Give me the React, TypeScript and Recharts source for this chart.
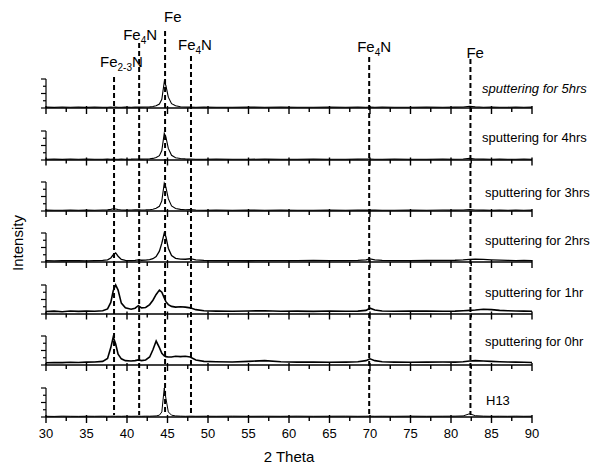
import React from 'react';
import { LineChart, Line, XAxis, YAxis, ReferenceLine, ReferenceDot } from 'recharts';

const W = 610;
const H = 468;
const ML = 46;
const MR = 78;
const FONT = '"Liberation Sans", Arial, Helvetica, sans-serif';

// 2 theta sample positions shared by every pattern
const TWO_THETA = [
  30, 31, 32, 33, 34, 35, 36, 37, 37.6, 38, 38.3, 38.6, 38.9, 39.3, 39.8, 40.5, 41, 41.4, 41.8, 42.3,
  42.8, 43.2, 43.6, 44, 44.3, 44.6, 44.8, 45.1, 45.5, 46, 46.6, 47.2, 47.8, 48.5, 49.5, 51, 53, 55, 57,
  59, 61, 63, 65, 67, 68.5, 69.5, 70, 70.6, 71.5, 73, 75, 77, 79, 80.5, 81.5, 82.3, 83, 84, 85, 86, 87,
  88, 89, 90,
];

const X_TICKS = [30, 32.5, 35, 37.5, 40, 42.5, 45, 47.5, 50, 52.5, 55, 57.5, 60, 62.5, 65, 67.5, 70, 72.5, 75, 77.5, 80, 82.5, 85, 87.5, 90];
const Y_TICKS = [0, 1, 2, 3, 4];

const HRS_5 = [
  0.12, 0.08, 0.14, 0.1, 0.12, 0.09, 0.13, 0.1, 0.11, 0.12, 0.1, 0.12, 0.11, 0.1, 0.12, 0.11, 0.13, 0.12,
  0.12, 0.13, 0.15, 0.2, 0.3, 0.55, 1.2, 3.6, 3.1, 1.5, 0.6, 0.3, 0.18, 0.14, 0.12, 0.1, 0.12, 0.1, 0.11,
  0.13, 0.1, 0.12, 0.1, 0.11, 0.13, 0.1, 0.12, 0.11, 0.12, 0.1, 0.12, 0.1, 0.11, 0.13, 0.1, 0.12, 0.14,
  0.25, 0.15, 0.1, 0.12, 0.1, 0.11, 0.13, 0.1, 0.12,
];
const HRS_4 = [
  0.1, 0.12, 0.09, 0.13, 0.1, 0.12, 0.1, 0.11, 0.12, 0.1, 0.13, 0.11, 0.1, 0.12, 0.11, 0.12, 0.14, 0.13,
  0.12, 0.14, 0.17, 0.22, 0.35, 0.6, 1.3, 3.7, 3.2, 1.6, 0.65, 0.32, 0.2, 0.15, 0.13, 0.11, 0.1, 0.12,
  0.11, 0.1, 0.13, 0.11, 0.1, 0.12, 0.11, 0.1, 0.12, 0.13, 0.14, 0.11, 0.1, 0.12, 0.11, 0.1, 0.12, 0.11,
  0.13, 0.22, 0.14, 0.12, 0.1, 0.12, 0.11, 0.1, 0.12, 0.11,
];
const HRS_3 = [
  0.12, 0.1, 0.11, 0.13, 0.1, 0.12, 0.11, 0.13, 0.15, 0.22, 0.3, 0.28, 0.2, 0.14, 0.12, 0.13, 0.15, 0.16,
  0.14, 0.15, 0.18, 0.24, 0.38, 0.65, 1.4, 3.85, 3.3, 1.7, 0.7, 0.35, 0.22, 0.18, 0.2, 0.13, 0.11, 0.12,
  0.1, 0.13, 0.11, 0.12, 0.1, 0.11, 0.12, 0.1, 0.13, 0.12, 0.14, 0.12, 0.11, 0.1, 0.12, 0.11, 0.13, 0.12,
  0.13, 0.2, 0.14, 0.12, 0.11, 0.13, 0.1, 0.12, 0.11, 0.12,
];
const HRS_2 = [
  0.18, 0.15, 0.2, 0.17, 0.19, 0.16, 0.2, 0.22, 0.3, 0.55, 1.0, 1.25, 0.8, 0.35, 0.22, 0.2, 0.22, 0.3,
  0.24, 0.25, 0.32, 0.45, 0.75, 1.5, 2.6, 4.0, 3.5, 1.9, 0.9, 0.5, 0.4, 0.38, 0.45, 0.28, 0.22, 0.18, 0.2,
  0.17, 0.19, 0.2, 0.18, 0.21, 0.19, 0.2, 0.22, 0.28, 0.42, 0.3, 0.22, 0.2, 0.18, 0.21, 0.22, 0.24, 0.28,
  0.35, 0.4, 0.35, 0.3, 0.25, 0.22, 0.2, 0.21, 0.19,
];
const HRS_1 = [
  0.35, 0.4, 0.32, 0.42, 0.36, 0.4, 0.38, 0.45, 0.7, 1.6, 3.2, 4.0, 3.3, 1.5, 0.85, 0.65, 0.8, 1.15, 0.85,
  0.9, 1.3, 1.9, 2.7, 3.3, 3.0, 2.2, 1.7, 1.3, 1.05, 0.95, 1.0, 0.95, 0.85, 0.6, 0.45, 0.4, 0.38, 0.42,
  0.45, 0.38, 0.4, 0.36, 0.42, 0.38, 0.4, 0.5, 0.8, 0.55, 0.42, 0.38, 0.4, 0.42, 0.38, 0.4, 0.45, 0.5,
  0.55, 0.65, 0.6, 0.5, 0.45, 0.42, 0.4, 0.38,
];
const HRS_0 = [
  0.3, 0.35, 0.33, 0.38, 0.35, 0.4, 0.42, 0.5, 0.9, 2.4, 3.85, 2.9, 1.5, 0.85, 0.6, 0.55, 0.6, 0.7, 0.6,
  0.7, 1.1, 2.1, 3.3, 2.4, 1.6, 1.25, 1.15, 1.1, 1.1, 1.2, 1.15, 1.2, 1.1, 0.7, 0.5, 0.45, 0.42, 0.5, 0.6,
  0.45, 0.4, 0.42, 0.38, 0.4, 0.45, 0.6, 0.85, 0.6, 0.45, 0.4, 0.38, 0.4, 0.42, 0.4, 0.45, 0.55, 0.6,
  0.55, 0.5, 0.45, 0.42, 0.4, 0.38, 0.35,
];
const H13 = [
  0.1, 0.08, 0.12, 0.1, 0.09, 0.11, 0.1, 0.12, 0.1, 0.11, 0.12, 0.1, 0.11, 0.1, 0.12, 0.1, 0.11, 0.12,
  0.1, 0.12, 0.11, 0.13, 0.15, 0.25, 0.7, 4.0, 2.6, 0.7, 0.25, 0.15, 0.12, 0.1, 0.12, 0.1, 0.11, 0.1,
  0.12, 0.1, 0.11, 0.1, 0.12, 0.1, 0.11, 0.12, 0.1, 0.11, 0.12, 0.1, 0.11, 0.1, 0.12, 0.1, 0.11, 0.12,
  0.15, 0.45, 0.18, 0.12, 0.1, 0.11, 0.1, 0.12, 0.1, 0.11,
];

const SERIES = [HRS_5, HRS_4, HRS_3, HRS_2, HRS_1, HRS_0, H13];
const SAMPLES = [
  'sputtering for 5hrs',
  'sputtering for 4hrs',
  'sputtering for 3hrs',
  'sputtering for 2hrs',
  'sputtering for 1hr',
  'sputtering for 0hr',
  'H13',
];

// reference peak positions and their phases
const PEAK_POS = [38.4, 41.5, 44.7, 47.9, 69.9, 82.4];
const PEAK_SUB = ['2-3', '4', '', '4', '4', ''];
const PEAK_TAIL = ['N', 'N', '', 'N', 'N', ''];

// layout
const BASELINES = [108, 159.5, 211, 262, 313.5, 365, 417];
const TRACE_WIDTH = [1.1, 1.1, 1.1, 1.3, 1.6, 1.6, 1.0];
const SAMPLE_X = [482, 482, 485, 485, 485, 485, 486];
const SAMPLE_RISE = [15, 18, 14, 17, 17, 19, 12];
const LINE_TOP = [77, 43, 31, 56, 57, 59];
const LINE_BOTTOM = 415;
const LABEL_Y = [67, 40, 22, 50, 52, 58];
const LABEL_DX = [-14, -16, -1, -13, -12, -4];

function XLabel({ x, y, payload, showLabel }: any) {
  if (!showLabel || payload.value % 5 !== 0) return <g />;
  return (
    <text x={x} y={y + 21} textAnchor="middle" fontSize={13} fontFamily={FONT} fill="#000">
      {payload.value}
    </text>
  );
}

function YTick({ x, y, payload }: any) {
  const major = payload.value % 2 === 0;
  return <line x1={x - (major ? 5 : 3)} x2={x} y1={y} y2={y} stroke="#000" strokeWidth={1.2} />;
}

function Panel({ values, baseline, last, width }: { values: number[]; baseline: number; last: boolean; width: number }) {
  const data = TWO_THETA.map((t, i) => ({ t, v: values[i] }));
  const axisH = last ? H - baseline : 15;
  const h = 4 + 29 + axisH;
  return (
    <div style={{ position: 'absolute', left: 0, top: baseline - 33, width: W, height: h }}>
      <LineChart width={W} height={h} data={data} margin={{ top: 4, right: MR, bottom: 0, left: 0 }}>
        <XAxis
          dataKey="t"
          type="number"
          domain={[30, 90]}
          ticks={X_TICKS}
          interval={0}
          tickSize={0}
          tickMargin={0}
          tickLine={false}
          height={axisH}
          axisLine={{ stroke: '#000', strokeWidth: 1.4 }}
          tick={(p: any) => <XLabel {...p} showLabel={last} />}
          label={
            last
              ? { value: '2 Theta', position: 'insideBottom', offset: 6, fontSize: 15, fill: '#000', fontFamily: FONT }
              : undefined
          }
        />
        <YAxis
          type="number"
          domain={[0, 4]}
          ticks={Y_TICKS}
          interval={0}
          width={ML}
          tickSize={0}
          tickMargin={0}
          tickLine={false}
          axisLine={{ stroke: '#000', strokeWidth: 1.2 }}
          tick={(p: any) => <YTick {...p} />}
        />
        <Line dataKey="v" type="linear" stroke="#000" strokeWidth={width} dot={false} isAnimationActive={false} />
      </LineChart>
    </div>
  );
}

function PhaseLabel({ cx, cy, i }: any) {
  return (
    <text x={cx + LABEL_DX[i]} y={cy} fontSize={15} fontFamily={FONT} fill="#000">
      <tspan>Fe</tspan>
      {PEAK_SUB[i] && (
        <tspan fontSize={10} dy={4}>
          {PEAK_SUB[i]}
        </tspan>
      )}
      {PEAK_TAIL[i] && <tspan dy={PEAK_SUB[i] ? -4 : 0}>{PEAK_TAIL[i]}</tspan>}
    </text>
  );
}

export default function App() {
  const peakData = PEAK_POS.map((t, i) => ({ t, v: LABEL_Y[i] }));
  return (
    <div style={{ position: 'absolute', left: 0, top: 0, width: W, height: H, background: '#fff', fontFamily: FONT }}>
      {SERIES.map((values, i) => (
        <Panel
          key={SAMPLES[i]}
          values={values}
          baseline={BASELINES[i]}
          width={TRACE_WIDTH[i]}
          last={i === SERIES.length - 1}
        />
      ))}

      {SAMPLES.map((s, i) => (
        <div
          key={s}
          style={{
            position: 'absolute',
            left: SAMPLE_X[i],
            top: BASELINES[i] - SAMPLE_RISE[i] - 11,
            fontSize: 13,
            lineHeight: '13px',
            whiteSpace: 'nowrap',
            fontStyle: i === 0 ? 'italic' : 'normal',
            color: '#000',
          }}
        >
          {s}
        </div>
      ))}

      <div
        style={{
          position: 'absolute',
          left: 17,
          top: 243,
          transform: 'translate(-50%, -50%) rotate(-90deg)',
          fontSize: 15,
          lineHeight: '15px',
          whiteSpace: 'nowrap',
          color: '#000',
        }}
      >
        Intensity
      </div>

      <div style={{ position: 'absolute', left: 0, top: 0, width: W, height: H, pointerEvents: 'none' }}>
        <LineChart width={W} height={H} data={peakData} margin={{ top: 0, right: MR, bottom: 0, left: ML }}>
          <XAxis dataKey="t" type="number" domain={[30, 90]} allowDataOverflow hide />
          <YAxis dataKey="v" type="number" domain={[0, H]} allowDataOverflow reversed hide />
          <Line dataKey="v" stroke="none" dot={false} isAnimationActive={false} />
          {BASELINES.map((b, k) =>
            X_TICKS.map((t) => {
              const major = t % 5 === 0;
              return (
                <ReferenceLine
                  key={`t-${k}-${t}`}
                  segment={[
                    { x: t, y: major ? b - 2 : b },
                    { x: t, y: b + (major ? 6 : 4) },
                  ]}
                  ifOverflow="visible"
                  stroke="#000"
                  strokeWidth={1.4}
                />
              );
            })
          )}
          {PEAK_POS.map((p, i) => (
            <ReferenceLine
              key={`l-${i}`}
              segment={[
                { x: p, y: LINE_TOP[i] },
                { x: p, y: LINE_BOTTOM },
              ]}
              ifOverflow="visible"
              stroke="#000"
              strokeWidth={2}
              strokeDasharray="5 3"
            />
          ))}
          {PEAK_POS.map((p, i) => (
            <ReferenceDot
              key={`d-${i}`}
              x={p}
              y={LABEL_Y[i]}
              r={0}
              ifOverflow="visible"
              shape={(s: any) => <PhaseLabel cx={s.cx} cy={s.cy} i={i} />}
            />
          ))}
        </LineChart>
      </div>
    </div>
  );
}
